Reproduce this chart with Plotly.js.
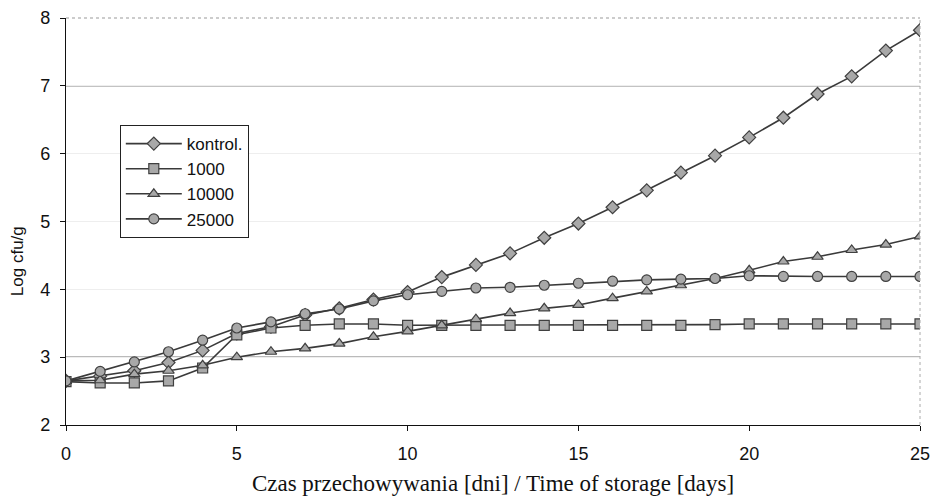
<!DOCTYPE html>
<html>
<head>
<meta charset="utf-8">
<script src="https://cdn.plot.ly/plotly-3.0.1.min.js"></script>
<style>html,body{margin:0;padding:0;background:#fff;}#chart{width:934px;height:499px;}</style>
</head>
<body>
<div id="chart"></div>
<script>
const days = [0,1,2,3,4,5,6,7,8,9,10,11,12,13,14,15,16,17,18,19,20,21,22,23,24,25];
const seriesNames = ["kontrol.", "1000", "10000", "25000"];
const kontrol = [2.65,2.72,2.80,2.92,3.10,3.35,3.45,3.62,3.72,3.85,3.96,4.18,4.36,4.53,4.76,4.97,5.21,5.46,5.72,5.97,6.24,6.53,6.88,7.14,7.52,7.82];
const c1000   = [2.64,2.62,2.62,2.65,2.84,3.33,3.43,3.47,3.49,3.49,3.47,3.47,3.47,3.47,3.47,3.47,3.47,3.47,3.47,3.48,3.49,3.49,3.49,3.49,3.49,3.49];
const c10000  = [2.65,2.66,2.75,2.80,2.88,3.00,3.08,3.13,3.20,3.30,3.38,3.47,3.56,3.65,3.72,3.77,3.87,3.97,4.06,4.16,4.28,4.41,4.48,4.58,4.66,4.78];
const c25000  = [2.65,2.79,2.93,3.08,3.25,3.43,3.52,3.64,3.71,3.83,3.92,3.97,4.02,4.03,4.06,4.09,4.12,4.14,4.15,4.16,4.20,4.19,4.19,4.19,4.19,4.19];
const symbols = ["diamond", "square", "triangle-up", "circle"];
const xTicks = [0,5,10,15,20,25];
const yTicks = [2,3,4,5,6,7,8];

const values = [kontrol, c1000, c10000, c25000];
const traces = values.map((v, i) => ({
  x: days, y: v, name: seriesNames[i], type: "scatter", mode: "lines+markers",
  line: {color: "#3a3a3a", width: 1.6},
  marker: {symbol: symbols[i], size: 10, color: "#a8a8a8", line: {color: "#404040", width: 1.2}}
}));

const sans = "Liberation Sans, Arial, sans-serif";
const layout = {
  width: 934, height: 499,
  margin: {l: 66, r: 14, t: 18, b: 74},
  paper_bgcolor: "#fff", plot_bgcolor: "#fff",
  font: {family: sans, size: 16, color: "#111"},
  showlegend: true,
  legend: {x: 0.063, y: 0.737, xanchor: "left", yanchor: "top",
           bgcolor: "#fff", bordercolor: "#222", borderwidth: 1,
           font: {family: sans, size: 17, color: "#111"},
           itemwidth: 56},
  xaxis: {range: [0, 25], tickvals: xTicks, ticktext: xTicks.map(String),
          tickfont: {family: sans, size: 18, color: "#111"},
          showgrid: false, zeroline: false, showline: true, linecolor: "#111", linewidth: 1.2,
          ticks: "outside", ticklen: 5, tickcolor: "#111", ticklabelstandoff: 7,
          title: {text: "Czas przechowywania [dni] / Time of storage [days]",
                  font: {family: "Liberation Serif, Times New Roman, serif", size: 23, color: "#111"}, standoff: 12}},
  yaxis: {range: [2, 8], tickvals: yTicks, ticktext: yTicks.map(String),
          tickfont: {family: sans, size: 18, color: "#111"},
          showgrid: true, gridcolor: "#eeeeee", gridwidth: 1, zeroline: false,
          showline: true, linecolor: "#111", linewidth: 1.2,
          ticks: "outside", ticklen: 5, tickcolor: "#111", ticklabelstandoff: 6},
  annotations: [
    {text: "Log cfu/g", xref: "paper", yref: "paper", x: -0.056, y: 0.403, xanchor: "center", yanchor: "middle",
     textangle: -90, showarrow: false, font: {family: sans, size: 17, color: "#111"}}
  ],
  shapes: [
    {type: "line", xref: "paper", x0: 0, x1: 1, yref: "y", y0: 3, y1: 3, line: {color: "#777", width: 1.2}, layer: "below"},
    {type: "line", xref: "paper", x0: 0, x1: 1, yref: "y", y0: 7, y1: 7, line: {color: "#888", width: 1.2}, layer: "below"},
    {type: "line", xref: "paper", x0: 0, x1: 1, yref: "paper", y0: 1, y1: 1, line: {color: "#999", width: 1, dash: "dot"}},
    {type: "line", xref: "paper", x0: 1, x1: 1, yref: "paper", y0: 0, y1: 1, line: {color: "#aaa", width: 1, dash: "dot"}}
  ]
};

Plotly.newPlot("chart", traces, layout, {displayModeBar: false, staticPlot: true});
</script>
</body>
</html>
